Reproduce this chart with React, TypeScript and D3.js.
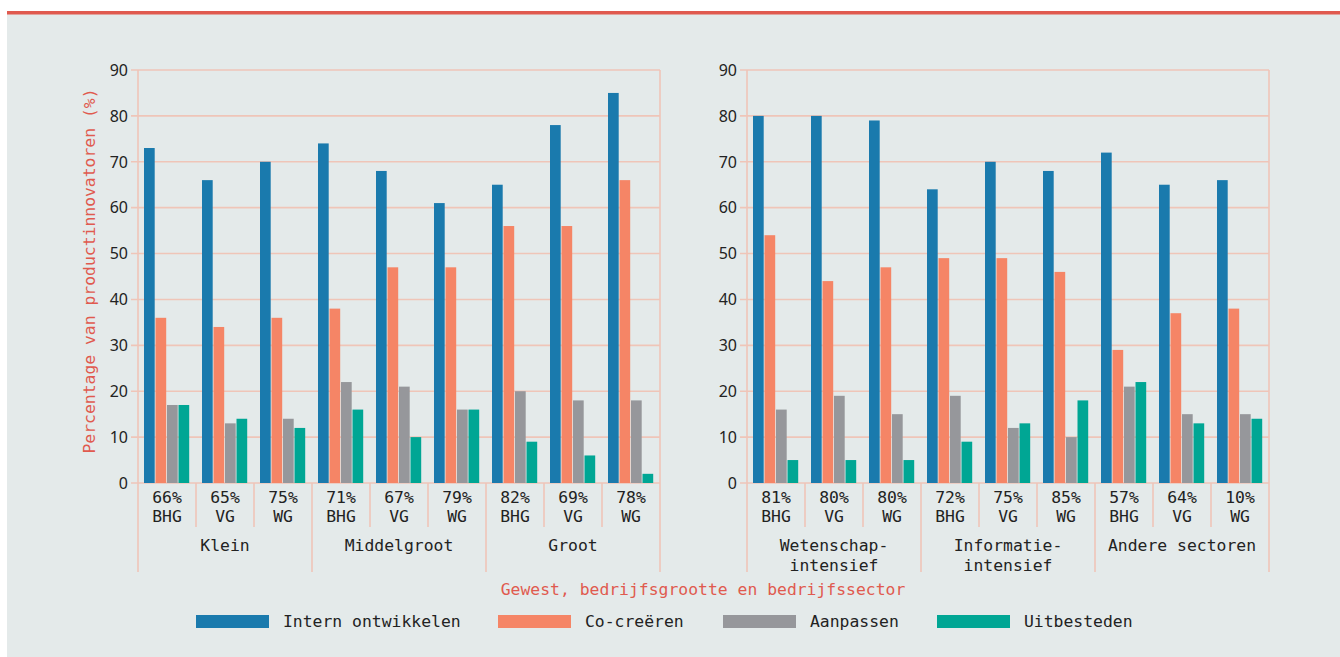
import React from "react";
import * as d3 from "d3";

const seriesNames = ["Intern ontwikkelen", "Co-creëren", "Aanpassen", "Uitbesteden"];
const colors = ["#1a7aad", "#f58566", "#96979b", "#00a694"];
const regions = ["BHG", "VG", "WG"];
const yTicks = [0, 10, 20, 30, 40, 50, 60, 70, 80, 90];

// Left panel: bedrijfsgrootte
const leftMajors = [["Klein"], ["Middelgroot"], ["Groot"]];
const leftPct = ["66%", "65%", "75%", "71%", "67%", "79%", "82%", "69%", "78%"];
const leftIntern = [73, 66, 70, 74, 68, 61, 65, 78, 85];
const leftCo = [36, 34, 36, 38, 47, 47, 56, 56, 66];
const leftAanp = [17, 13, 14, 22, 21, 16, 20, 18, 18];
const leftUit = [17, 14, 12, 16, 10, 16, 9, 6, 2];

// Right panel: bedrijfssector
const rightMajors = [["Wetenschap-", "intensief"], ["Informatie-", "intensief"], ["Andere sectoren"]];
const rightPct = ["81%", "80%", "80%", "72%", "75%", "85%", "57%", "64%", "10%"];
const rightIntern = [80, 80, 79, 64, 70, 68, 72, 65, 66];
const rightCo = [54, 44, 47, 49, 49, 46, 29, 37, 38];
const rightAanp = [16, 19, 15, 19, 12, 10, 21, 15, 15];
const rightUit = [5, 5, 5, 9, 13, 18, 22, 13, 14];

const GRID = "#efc5b8";
const MONO = "'DejaVu Sans Mono', monospace";
const SANS = "'Noto Sans', 'Open Sans', sans-serif";
const MFS = 16.4;

function Panel({ x0, x1, majors, pct, series }: { x0: number; x1: number; majors: string[][]; pct: string[]; series: number[][] }) {
  const y = d3.scaleLinear().domain([0, 90]).range([483, 70]);
  const idx = d3.range(pct.length);
  const x = d3.scaleBand<number>().domain(idx).range([x0, x1]).padding(0);
  const xs = d3.scaleBand<number>().domain(d3.range(4)).range([6, x.bandwidth() - 6]).padding(0);
  const majorW = x.bandwidth() * 3;
  return (
    <g>
      {yTicks.map((t) => (
        <g key={t}>
          <line x1={x0 - 7} x2={x1} y1={y(t)} y2={y(t)} stroke={GRID} strokeWidth={1.6} />
          <text x={x0 - 10} y={y(t)} dy="0.36em" textAnchor="end" fontFamily={SANS} fontSize={16} fill="#222">{t}</text>
        </g>
      ))}
      <line x1={x0} x2={x0} y1={70} y2={572} stroke={GRID} strokeWidth={1.6} />
      <line x1={x1} x2={x1} y1={70} y2={572} stroke={GRID} strokeWidth={1.6} />
      {idx.map((i) => (
        <g key={i} transform={`translate(${x(i)},0)`}>
          {series.map((s, k) => (
            <rect key={k} x={(xs(k) as number)} width={xs.bandwidth() - 0.8} y={y(s[i])} height={y(0) - y(s[i])} fill={colors[k]} />
          ))}
          {i > 0 && i % 3 !== 0 && (
            <line x1={0} x2={0} y1={483} y2={527} stroke={GRID} strokeWidth={1.6} />
          )}
          {i % 3 === 0 && i > 0 && (
            <line x1={0} x2={0} y1={483} y2={572} stroke={GRID} strokeWidth={1.6} />
          )}
          <text x={x.bandwidth() / 2} y={503} textAnchor="middle" fontFamily={MONO} fontSize={MFS} fill="#222">{pct[i]}</text>
          <text x={x.bandwidth() / 2} y={522} textAnchor="middle" fontFamily={MONO} fontSize={MFS} fill="#222">{regions[i % 3]}</text>
        </g>
      ))}
      {majors.map((lines, m) => (
        <text key={m} x={x0 + majorW * m + majorW / 2} y={551} textAnchor="middle" fontFamily={MONO} fontSize={MFS} fill="#222">
          {lines.map((l, j) => (
            <tspan key={j} x={x0 + majorW * m + majorW / 2} dy={j === 0 ? 0 : 19.5}>{l}</tspan>
          ))}
        </text>
      ))}
    </g>
  );
}

export default function App() {
  const legendX = [196, 498, 723, 937];
  return (
    <svg width={1340} height={657} style={{ position: "absolute", left: 0, top: 0 }}>
      <rect x={7} y={13} width={1333} height={644} fill="#e4eaea" />
      <rect x={7} y={11} width={1333} height={3.5} fill="#e05a4f" />
      <Panel x0={138} x1={660} majors={leftMajors} pct={leftPct} series={[leftIntern, leftCo, leftAanp, leftUit]} />
      <Panel x0={747} x1={1269} majors={rightMajors} pct={rightPct} series={[rightIntern, rightCo, rightAanp, rightUit]} />
      <text transform="translate(95,271) rotate(-90)" textAnchor="middle" fontFamily={MONO} fontSize={MFS} fill="#e05a4f">Percentage van productinnovatoren (%)</text>
      <text x={703} y={595} textAnchor="middle" fontFamily={MONO} fontSize={MFS} fill="#e05a4f">Gewest, bedrijfsgrootte en bedrijfssector</text>
      {seriesNames.map((n, k) => (
        <g key={n}>
          <rect x={legendX[k]} y={615} width={73} height={13} fill={colors[k]} />
          <text x={legendX[k] + 87} y={627} fontFamily={MONO} fontSize={MFS} fill="#222">{n}</text>
        </g>
      ))}
    </svg>
  );
}
